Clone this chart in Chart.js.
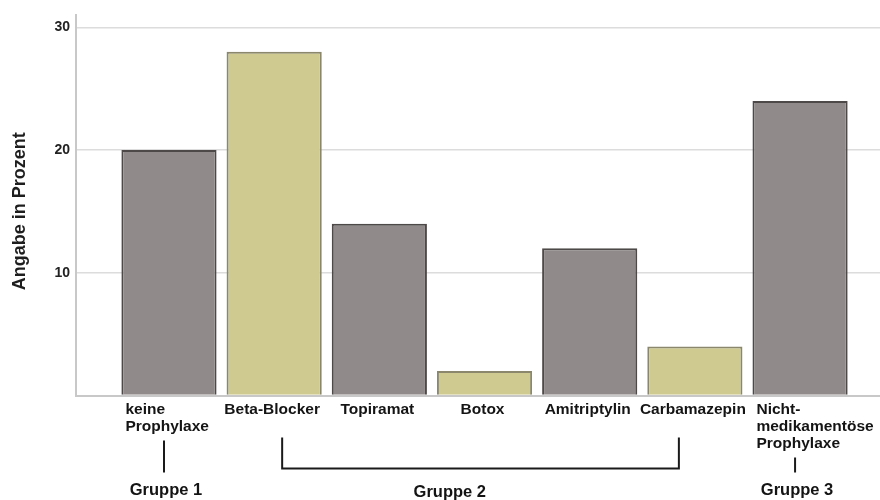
<!DOCTYPE html>
<html><head><meta charset="utf-8">
<script src="https://cdn.jsdelivr.net/npm/chart.js@4.4.1/dist/chart.umd.min.js"></script>
<style>html,body{margin:0;padding:0;background:#fff}#wrap{width:880px;height:500px;position:relative}</style>
</head><body><div id="wrap"><canvas id="c" width="880" height="500"></canvas></div>
<script>
const categories = [['keine','Prophylaxe'],['Beta-Blocker'],['Topiramat'],['Botox'],['Amitriptylin'],['Carbamazepin'],['Nicht-','medikamentöse','Prophylaxe']];
const values = [20, 28, 14, 2, 12, 4, 24];
const yTicks = [10, 20, 30];
const yTitle = 'Angabe in Prozent';
const groupNames = ['Gruppe 1', 'Gruppe 2', 'Gruppe 3'];
const groupFirst = [0, 1, 6];
const groupLast = [0, 5, 6];

const GRAY = '#918a8a', KHAKI = '#cfca8f';
const GRAY_B = '#4e4949', KHAKI_B = '#8a876c';

const labelsPlugin = {
  id: 'xlabels',
  afterDraw(chart) {
    const ctx = chart.ctx;
    const { top: areaTop, bottom } = chart.chartArea;
    const x = chart.scales.x;
    const meta = chart.getDatasetMeta(0);
    ctx.save();
    ctx.fillStyle = '#141414';
    ctx.strokeStyle = '#1a1a1a';
    ctx.lineWidth = 2;
    ctx.textBaseline = 'alphabetic';
    ctx.font = 'bold 15.5px "Liberation Sans"';
    categories.forEach((lines, i) => {
      const cx = x.getPixelForValue(i);
      const bw = meta.data[i].width;
      lines.forEach((t, k) => {
        if (lines.length > 1) {
          ctx.textAlign = 'left';
          ctx.fillText(t, cx - bw / 2 + 4, bottom + 18 + k * 17);
        } else {
          ctx.textAlign = 'center';
          ctx.fillText(t, cx - 2, bottom + 18);
        }
      });
    });
    ctx.font = 'bold 16.5px "Liberation Sans"';
    ctx.textAlign = 'center';
    groupNames.forEach((name, g) => {
      const a = groupFirst[g], b = groupLast[g];
      if (a === b) {
        const cx = x.getPixelForValue(a);
        const n = categories[a].length;
        const top = bottom + 18 + (n - 1) * 17 + 10;
        ctx.beginPath();
        ctx.moveTo(cx - 5, top);
        ctx.lineTo(cx - 5, bottom + 77);
        ctx.stroke();
        ctx.fillText(name, cx - 3, bottom + 99);
      } else {
        const x1 = x.getPixelForValue(a) + 8;
        const x2 = x.getPixelForValue(b) - 16;
        const t = bottom + 42, yb = bottom + 73;
        ctx.beginPath();
        ctx.moveTo(x1, t); ctx.lineTo(x1, yb); ctx.lineTo(x2, yb); ctx.lineTo(x2, t);
        ctx.stroke();
        ctx.fillText(name, x.getPixelForValue((a + b) / 2 - 0.33), bottom + 101);
      }
    });
    // y axis title
    ctx.font = 'bold 18px "Liberation Sans"';
    ctx.fillStyle = '#1e1e1e';
    ctx.textAlign = 'center';
    ctx.textBaseline = 'middle';
    ctx.translate(20, (areaTop + bottom) / 2 + 6);
    ctx.rotate(-Math.PI / 2);
    ctx.fillText(yTitle, 0, 0);
    ctx.restore();
  }
};

new Chart(document.getElementById('c'), {
  type: 'bar',
  data: {
    datasets: [{
      data: values.map((v, i) => ({ x: i, y: v })),
      backgroundColor: values.map((v, i) => i % 2 ? KHAKI : GRAY),
      borderColor: values.map((v, i) => i % 2 ? KHAKI_B : GRAY_B),
      borderWidth: 2,
      barPercentage: 0.905,
      categoryPercentage: 1
    }]
  },
  options: {
    responsive: false,
    animation: false,
    layout: { padding: { top: 15, left: 0, right: 0, bottom: 0 } },
    plugins: { legend: { display: false }, tooltip: { enabled: false } },
    scales: {
      x: {
        type: 'linear', min: -0.884, max: 6.76, offset: false,
        afterBuildTicks(s) { s.ticks = categories.map((c, i) => ({ value: i })); },
        grid: { display: false },
        border: { display: true, color: '#c8c8c8', width: 2 },
        ticks: { display: false },
        afterFit(s) { s.height = 104.5; }
      },
      y: {
        min: 0, max: 31,
        afterBuildTicks(s) { s.ticks = [0, ...yTicks].map(v => ({ value: v })); },
        ticks: {
          callback: v => v === 0 ? '' : v,
          color: '#222',
          font: { family: 'Liberation Sans', weight: 'bold', size: 14 },
          padding: 6
        },
        grid: { color: '#dcdcdc', lineWidth: 1.5, drawTicks: false },
        border: { color: '#c8c8c8', width: 2 },
        afterFit(s) { s.width = 76; }
      }
    }
  },
  plugins: [labelsPlugin]
});
</script>
</body></html>
